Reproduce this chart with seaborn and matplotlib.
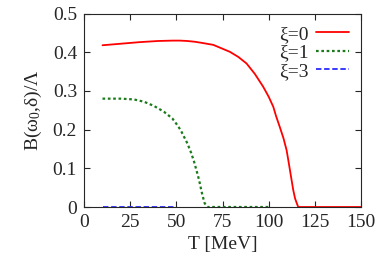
import matplotlib
matplotlib.use("Agg")
import matplotlib.pyplot as plt
import seaborn as sns

# values
t_xi0 = [10, 20, 30, 40, 48, 52, 56, 60, 64, 70, 74, 79, 83.5, 88, 92.5, 97, 100, 102.5, 104, 106, 108,
         109.7, 110.6, 111.5, 112.4, 113.3, 114.3, 115.2, 116, 130, 150]
b_xi0 = [0.418, 0.422, 0.426, 0.429, 0.430, 0.430, 0.429, 0.427, 0.424, 0.419, 0.411, 0.401, 0.388, 0.371,
         0.344, 0.311, 0.285, 0.259, 0.235, 0.207, 0.178, 0.147, 0.122, 0.096, 0.070, 0.044, 0.022,
         0.010, 0.0, 0.0, 0.0]

t_xi1 = [10, 20, 27, 32.5, 35, 37.9, 40.5, 43.3, 47.8, 50, 52.3, 54, 56, 58, 59.6, 61, 62.3, 63.2, 64.1,
         65.3, 66.8, 80, 100]
b_xi1 = [0.280, 0.280, 0.278, 0.272, 0.267, 0.261, 0.254, 0.246, 0.229, 0.215, 0.199, 0.183, 0.164,
         0.140, 0.117, 0.093, 0.070, 0.050, 0.031, 0.010, 0.0, 0.0, 0.0]

t_xi3 = [10, 30, 50]
b_xi3 = [0.0, 0.0, 0.0]

labels = ["ξ=0", "ξ=1", "ξ=3"]
x_ticks = [0, 25, 50, 75, 100, 125, 150]
y_ticks = [0, 0.1, 0.2, 0.3, 0.4, 0.5]
y_ticklabels = ["0", "0.1", "0.2", "0.3", "0.4", "0.5"]

sns.set_style("ticks")
plt.rcParams["font.family"] = ["Liberation Serif", "DejaVu Serif"]
plt.rcParams["mathtext.default"] = "regular"

fig = plt.figure(figsize=(3.82, 2.76), dpi=100)
ax = fig.add_axes([0.22, 0.25, 0.725, 0.701])

styles = [("#ff0000", "-", 1.3), ("#1b7a1b", (0, (1.2, 1.2)), 1.6), ("#2a2aff", (0, (3, 1.5)), 1.3)]
for (t, b), lab, (col, ls, lw) in zip([(t_xi0, b_xi0), (t_xi1, b_xi1), (t_xi3, b_xi3)], labels, styles):
    sns.lineplot(x=t, y=b, ax=ax, color=col, linestyle=ls, linewidth=lw, label=lab,
                 sort=False, estimator=None)

ax.set_xlim(0, 150)
ax.set_ylim(0, 0.5)
ax.set_xticks(x_ticks)
ax.set_yticks(y_ticks)
ax.set_yticklabels(y_ticklabels)
ax.tick_params(direction="in", top=True, right=True, labelsize=14, length=4, width=0.8, pad=5)
for s in ax.spines.values():
    s.set_linewidth(0.8)

ax.set_xlabel("T [MeV]", fontsize=14, labelpad=4)
ax.set_ylabel("B(ω$_0$,δ)/Λ", fontsize=14, labelpad=6)

ax.legend(loc="upper right", frameon=False, markerfirst=False, fontsize=14,
          handlelength=1.7, handletextpad=0.4, labelspacing=0.05,
          borderaxespad=0.3, borderpad=0.3)

fig.savefig("out.png", dpi=100)
